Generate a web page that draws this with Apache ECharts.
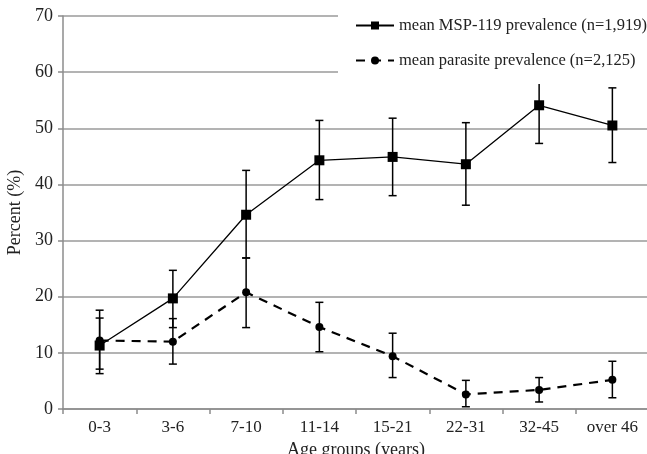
<!DOCTYPE html>
<html><head><meta charset="utf-8">
<script src="https://cdn.jsdelivr.net/npm/echarts@6/dist/echarts.min.js"></script>
<style>html,body{margin:0;padding:0;background:#fff}#c{width:647px;height:454px}</style>
</head><body><div id="c"></div>
<script>
var categories = ['0-3','3-6','7-10','11-14','15-21','22-31','32-45','over 46'];
var mspMean  = [11.3, 19.7, 34.6, 44.3, 44.9, 43.6, 54.1, 50.5];
var mspLow   = [6.3, 14.5, 26.9, 37.3, 38.0, 36.3, 47.3, 43.9];
var mspHigh  = [17.6, 24.7, 42.5, 51.4, 51.8, 51.0, 60.5, 57.2];
var parMean  = [12.2, 12.0, 20.8, 14.6, 9.4, 2.6, 3.4, 5.2];
var parLow   = [7.1, 8.0, 14.5, 10.2, 5.6, 0.4, 1.25, 2.0];
var parHigh  = [16.2, 16.1, 26.9, 19.0, 13.5, 5.1, 5.6, 8.5];
var yTicks = [0,10,20,30,40,50,60,70];

function errData(lo, hi){ return categories.map(function(c,i){ return [i, lo[i], hi[i]]; }); }
function errRender(params, api){
  var x = api.value(0), lo = api.coord([x, api.value(1)]), hi = api.coord([x, api.value(2)]);
  var cap = 4;
  var st = {stroke:'#000', lineWidth:1.5};
  return {type:'group', children:[
    {type:'line', shape:{x1:lo[0],y1:lo[1],x2:hi[0],y2:hi[1]}, style:st},
    {type:'line', shape:{x1:lo[0]-cap,y1:lo[1],x2:lo[0]+cap,y2:lo[1]}, style:st},
    {type:'line', shape:{x1:hi[0]-cap,y1:hi[1],x2:hi[0]+cap,y2:hi[1]}, style:st}
  ]};
}
var font = 'Liberation Serif';
var chart = echarts.init(document.getElementById('c'));
chart.setOption({
  animation:false,
  textStyle:{fontFamily:font},
  grid:{left:63, top:16, width:586, bottom:45, outerBoundsMode:'none', containLabel:false},
  legend:{
    orient:'vertical', left:338, top:0, itemWidth:38, itemHeight:10, itemGap:18,
    backgroundColor:'#fff', padding:[17,10,15,17], z:10,
    textStyle:{fontFamily:font, fontSize:16.5, color:'#222'},
    data:['mean MSP-119 prevalence (n=1,919)','mean parasite prevalence (n=2,125)']
  },
  xAxis:{
    type:'category', data:categories,
    name:'Age groups (years)', nameLocation:'middle', nameGap:27,
    nameTextStyle:{fontFamily:font, fontSize:18, color:'#222'},
    axisLine:{lineStyle:{color:'#8c8c8c', width:1.5}},
    axisTick:{show:true, length:5, lineStyle:{color:'#8c8c8c', width:1.5}},
    axisLabel:{fontFamily:font, fontSize:17, color:'#222', margin:10}
  },
  yAxis:{
    type:'value', min:yTicks[0], max:yTicks[yTicks.length-1], interval:10,
    name:'Percent (%)', nameLocation:'middle', nameGap:39, nameRotate:90,
    nameTextStyle:{fontFamily:font, fontSize:18, color:'#222'},
    axisLine:{show:true, lineStyle:{color:'#8c8c8c', width:1.5}},
    axisTick:{show:true, length:5, lineStyle:{color:'#8c8c8c', width:1.5}},
    splitLine:{lineStyle:{color:'#9a9a9a', width:1.5}},
    axisLabel:{fontFamily:font, fontSize:18, color:'#222', margin:10}
  },
  series:[
    {type:'custom', renderItem:errRender, data:errData(mspLow, mspHigh), z:3, silent:true},
    {type:'custom', renderItem:errRender, data:errData(parLow, parHigh), z:3, silent:true},
    {name:'mean MSP-119 prevalence (n=1,919)', type:'line', data:mspMean, z:4,
     symbol:'rect', symbolSize:10, itemStyle:{color:'#000'},
     lineStyle:{color:'#000', width:1.3, type:'solid'}},
    {name:'mean parasite prevalence (n=2,125)', type:'line', data:parMean, z:4,
     symbol:'circle', symbolSize:8, itemStyle:{color:'#000'},
     lineStyle:{color:'#000', width:2.2, type:[9,7]}}
  ]
});
</script></body></html>
